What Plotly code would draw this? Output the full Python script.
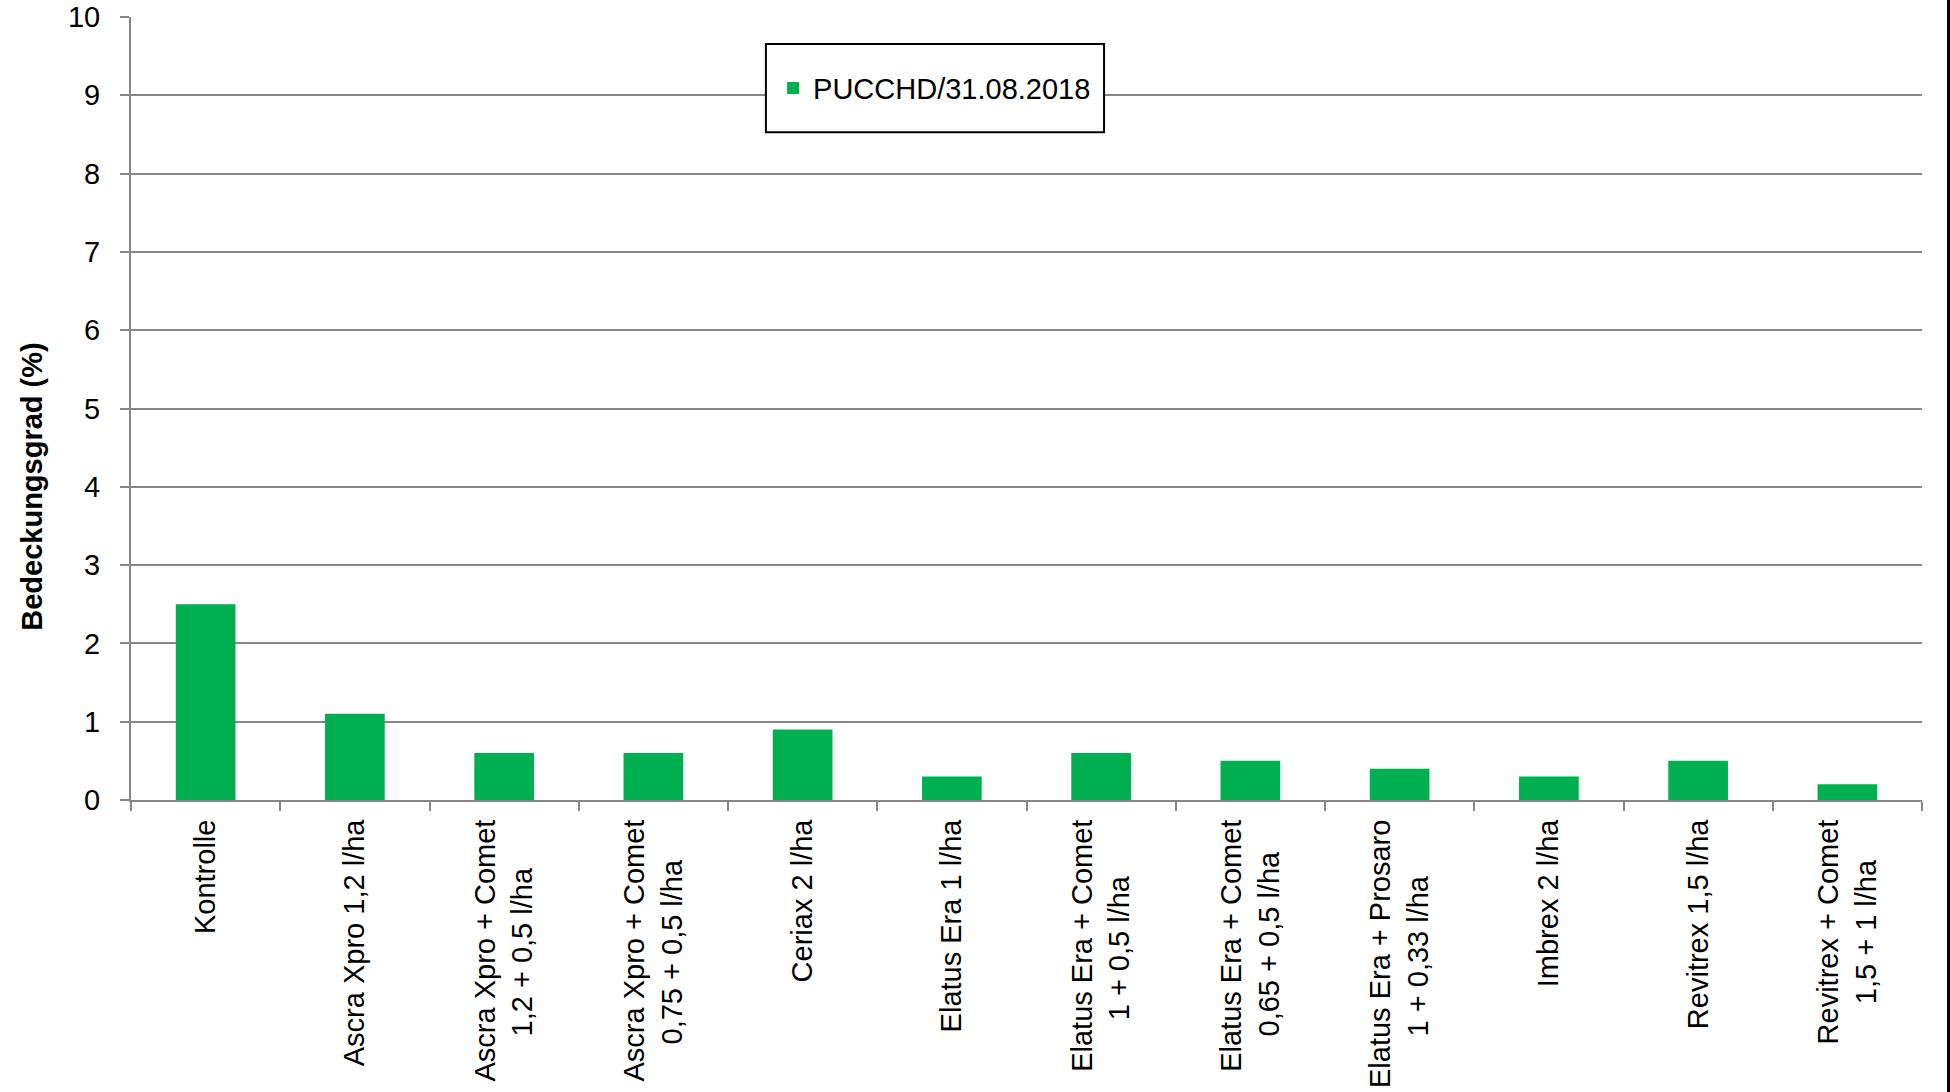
import plotly.graph_objects as go

categories = [
    ["Kontrolle"],
    ["Ascra Xpro 1,2 l/ha"],
    ["Ascra Xpro + Comet", "1,2 + 0,5 l/ha"],
    ["Ascra Xpro + Comet", "0,75 + 0,5 l/ha"],
    ["Ceriax 2 l/ha"],
    ["Elatus Era 1 l/ha"],
    ["Elatus Era + Comet", "1 + 0,5 l/ha"],
    ["Elatus Era + Comet", "0,65 + 0,5 l/ha"],
    ["Elatus Era + Prosaro", "1 + 0,33 l/ha"],
    ["Imbrex 2 l/ha"],
    ["Revitrex 1,5 l/ha"],
    ["Revitrex + Comet", "1,5 + 1 l/ha"],
]
values = [2.5, 1.1, 0.6, 0.6, 0.9, 0.3, 0.6, 0.5, 0.4, 0.3, 0.5, 0.2]
series_name = "PUCCHD/31.08.2018"
y_title = "Bedeckungsgrad (%)"

FONT = "Liberation Sans, Arial, sans-serif"
GRAY = "#878787"

# Arial advance widths (per 1000 em) used only to centre the second label line
W = {" ": 278, "A": 667, "C": 722, "E": 667, "I": 278, "K": 667, "P": 667, "R": 722,
     "X": 667, "a": 556, "b": 556, "c": 500, "e": 556, "h": 556, "i": 222, "l": 222,
     "m": 833, "n": 556, "o": 556, "p": 556, "r": 333, "s": 500, "t": 278, "u": 556,
     "v": 500, "x": 500, ",": 278, ".": 278, "/": 278, "+": 584}


def tw(s):
    return sum(W.get(ch, 556) for ch in s)


def label(lines):
    if len(lines) == 1:
        return lines[0]
    first, second = lines
    pad = round((tw(first) - tw(second)) / 2 / 278)
    return first + "<br>" + second + "\u00a0" * max(pad, 0)


keys = [" / ".join(c) for c in categories]
ticktext = [label(c) for c in categories]

fig = go.Figure()
fig.add_trace(go.Bar(
    x=keys, y=values, name=series_name,
    marker=dict(color="#00B050", line=dict(width=0)),
    showlegend=True,
))

fig.update_layout(
    width=1950, height=1092,
    margin=dict(l=131, r=28, t=17, b=292, autoexpand=False),
    paper_bgcolor="white", plot_bgcolor="white",
    font=dict(family=FONT, size=29, color="black"),
    bargap=0.6,
    showlegend=True,
    legend=dict(
        x=0.3585, y=0.909, xanchor="left", yanchor="middle",
        borderwidth=0, bgcolor="rgba(0,0,0,0)",
        font=dict(size=29, family=FONT),
    ),
    xaxis=dict(
        type="category", automargin=False,
        tickmode="array", tickvals=keys, ticktext=ticktext,
        showline=True, linecolor=GRAY, linewidth=2,
        ticks="outside", tickson="boundaries", ticklen=9, tickcolor=GRAY, tickwidth=2,
        tickangle=-90, showgrid=False,
        tickfont=dict(size=29, family=FONT),
        ticklabelstandoff=6,
    ),
    yaxis=dict(
        range=[0, 10], dtick=1, automargin=False,
        showline=True, linecolor=GRAY, linewidth=2,
        ticks="outside", ticklen=9, tickcolor=GRAY, tickwidth=2,
        showgrid=True, gridcolor=GRAY, gridwidth=2,
        zeroline=False,
        tickfont=dict(size=29, family=FONT),
        ticklabelstandoff=14,
    ),
    annotations=[dict(
        text="<b>" + y_title + "</b>", xref="paper", yref="paper",
        x=-0.0553, y=0.40, xanchor="center", yanchor="middle",
        textangle=-90, showarrow=False,
        font=dict(size=29, family=FONT),
    )],
    shapes=[
        dict(type="rect", xref="paper", yref="paper", layer="above",
             x0=0.3545, x1=0.5433, y0=0.8528, y1=0.9654,
             fillcolor="white", line=dict(color="black", width=2)),
        dict(type="line", xref="paper", yref="paper",
             x0=1.0148, x1=1.0148, y0=-0.5, y1=1.1,
             line=dict(color="black", width=3)),
    ],
)

fig.write_html(
    "out.html",
    config={"displayModeBar": False},
    post_script="document.body.style.margin='0';document.body.style.overflow='hidden';",
)
